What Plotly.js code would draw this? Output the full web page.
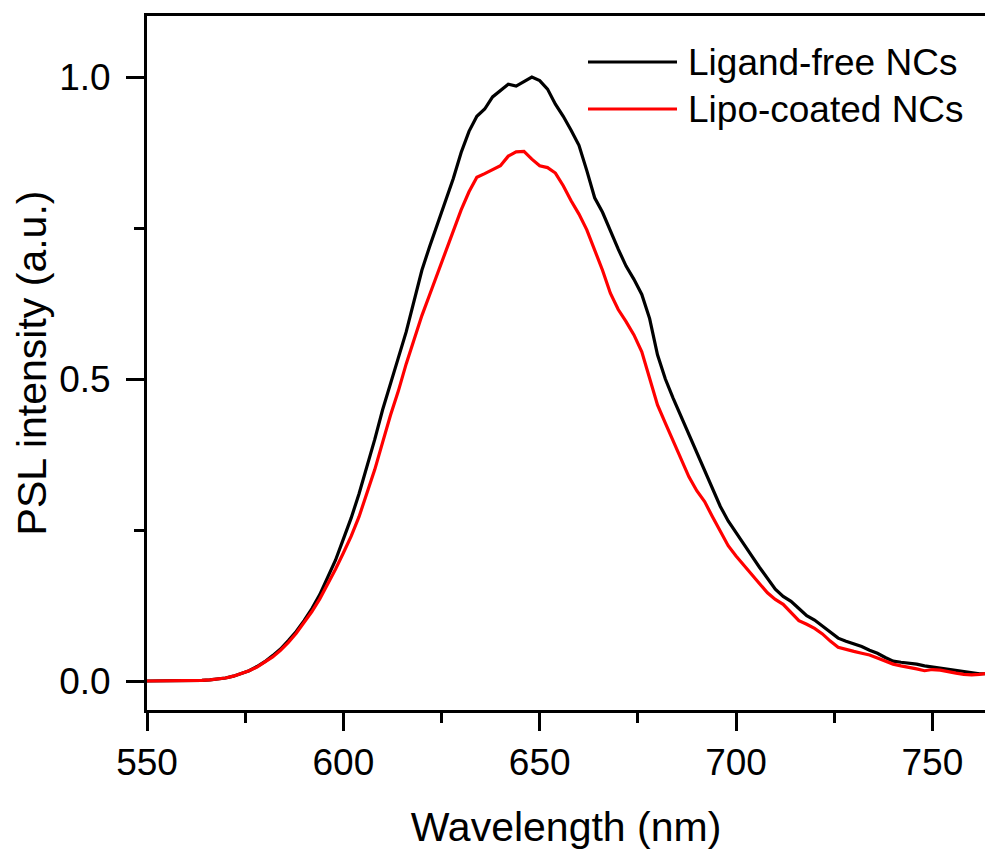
<!DOCTYPE html>
<html>
<head>
<meta charset="utf-8">
<script src="https://cdn.plot.ly/plotly-3.0.1.min.js"></script>
<style>
  html, body { margin: 0; padding: 0; background: #fff; }
  #chart { width: 985px; height: 850px; }
</style>
</head>
<body>
<div id="chart"></div>
<script>
// Wavelength grid (nm)
const wavelength = [550,552,554,556,558,560,562,564,566,568,570,572,574,576,578,580,582,584,586,588,590,592,594,596,598,600,602,604,606,608,610,612,614,616,618,620,622,624,626,628,630,632,634,636,638,640,642,644,646,648,650,652,654,656,658,660,662,664,666,668,670,672,674,676,678,680,682,684,686,688,690,692,694,696,698,700,702,704,706,708,710,712,714,716,718,720,722,724,726,728,730,732,734,736,738,740,742,744,746,748,750,752,754,756,758,760,762,764];

// Ligand-free NCs (black)
const ligandFree = [0,0,0,0,0,0,0.0005,0.001,0.002,0.003,0.005,0.008,0.012,0.017,0.024,0.032,0.042,0.053,0.067,0.082,0.100,0.120,0.143,0.170,0.200,0.235,0.270,0.310,0.354,0.400,0.449,0.490,0.535,0.578,0.630,0.680,0.720,0.757,0.792,0.832,0.875,0.910,0.935,0.947,0.967,0.978,0.988,0.985,0.992,1.000,0.994,0.980,0.955,0.935,0.912,0.887,0.845,0.800,0.776,0.745,0.715,0.687,0.665,0.640,0.600,0.540,0.500,0.468,0.438,0.408,0.380,0.347,0.317,0.289,0.265,0.245,0.226,0.207,0.188,0.170,0.152,0.140,0.132,0.120,0.108,0.101,0.091,0.080,0.071,0.066,0.062,0.057,0.051,0.046,0.039,0.033,0.031,0.030,0.028,0.025,0.023,0.021,0.019,0.017,0.015,0.013,0.012,0.012];

// Lipo-coated NCs (red)
const lipoCoated = [0,0,0,0,0,0,0.0005,0.001,0.002,0.003,0.005,0.008,0.012,0.017,0.023,0.031,0.040,0.051,0.064,0.079,0.096,0.115,0.136,0.160,0.185,0.212,0.240,0.272,0.310,0.350,0.395,0.440,0.480,0.525,0.565,0.605,0.640,0.675,0.710,0.745,0.780,0.810,0.834,0.840,0.846,0.853,0.869,0.876,0.877,0.864,0.853,0.850,0.841,0.820,0.795,0.773,0.747,0.715,0.680,0.642,0.615,0.595,0.573,0.545,0.503,0.457,0.427,0.397,0.367,0.338,0.315,0.297,0.272,0.248,0.224,0.207,0.191,0.176,0.161,0.146,0.135,0.127,0.114,0.100,0.094,0.087,0.078,0.066,0.056,0.052,0.049,0.046,0.043,0.038,0.033,0.028,0.025,0.023,0.020,0.017,0.019,0.018,0.015,0.013,0.011,0.010,0.011,0.013];

const seriesNames = ["Ligand-free NCs", "Lipo-coated NCs"];
const seriesColors = ["#000000", "#ff0000"];
const xTitle = "Wavelength (nm)";
const yTitle = "PSL intensity (a.u.)";

const FONT = "Liberation Sans, Arial, Helvetica, sans-serif";

const traces = [
  { x: wavelength, y: ligandFree, name: seriesNames[0], type: "scatter", mode: "lines",
    line: { color: seriesColors[0], width: 3.2 }, showlegend: false },
  { x: wavelength, y: lipoCoated, name: seriesNames[1], type: "scatter", mode: "lines",
    line: { color: seriesColors[1], width: 3.2 }, showlegend: false }
];

// Plot-area geometry (pixels) used to place the hand-drawn legend
const W = 985, H = 850;
const mL = 147, mR = 0, mT = 16, mB = 140;
const pw = W - mL - mR, ph = H - mT - mB;
const px = v => (v - mL) / pw;
const py = v => (H - mB - v) / ph;

const legendRows = [62, 109];
const shapes = [], annotations = [];
seriesNames.forEach((nm, i) => {
  shapes.push({ type: "line", xref: "paper", yref: "paper",
    x0: px(588), x1: px(677), y0: py(legendRows[i]), y1: py(legendRows[i]),
    line: { color: seriesColors[i], width: 3 } });
  annotations.push({ xref: "paper", yref: "paper", x: px(686), y: py(legendRows[i]),
    xanchor: "left", yanchor: "middle", text: nm, showarrow: false,
    font: { family: FONT, size: 37, color: "#000" } });
});

const layout = {
  width: W, height: H,
  margin: { l: mL, r: mR, t: mT, b: mB, pad: 0 },
  paper_bgcolor: "#fff", plot_bgcolor: "#fff",
  font: { family: FONT, color: "#000" },
  showlegend: false,
  xaxis: {
    range: [550, 763.4], autorange: false,
    tickmode: "linear", tick0: 550, dtick: 50,
    ticks: "outside", ticklen: 18, tickwidth: 3, tickcolor: "#000",
    minor: { tickmode: "linear", tick0: 550, dtick: 25, ticks: "outside", ticklen: 10, tickwidth: 3, tickcolor: "#000", showgrid: false },
    showline: true, linewidth: 3, linecolor: "#000", mirror: true,
    showgrid: false, zeroline: false,
    tickfont: { family: FONT, size: 37, color: "#000" },
    title: { text: xTitle, font: { family: FONT, size: 41, color: "#000" }, standoff: 31 }
  },
  yaxis: {
    range: [-0.048, 1.101], autorange: false,
    tickmode: "linear", tick0: 0, dtick: 0.5, tickformat: ".1f",
    ticks: "outside", ticklen: 18, tickwidth: 3, tickcolor: "#000",
    minor: { tickmode: "linear", tick0: 0, dtick: 0.25, ticks: "outside", ticklen: 10, tickwidth: 3, tickcolor: "#000", showgrid: false },
    showline: true, linewidth: 3, linecolor: "#000", mirror: false,
    showgrid: false, zeroline: false,
    ticklabelstandoff: 8,
    tickfont: { family: FONT, size: 37, color: "#000" },
    title: { text: yTitle, font: { family: FONT, size: 41, color: "#000" }, standoff: 0 }
  },
  shapes: shapes,
  annotations: annotations
};

Plotly.newPlot("chart", traces, layout, { displayModeBar: false, staticPlot: true });
</script>
</body>
</html>
